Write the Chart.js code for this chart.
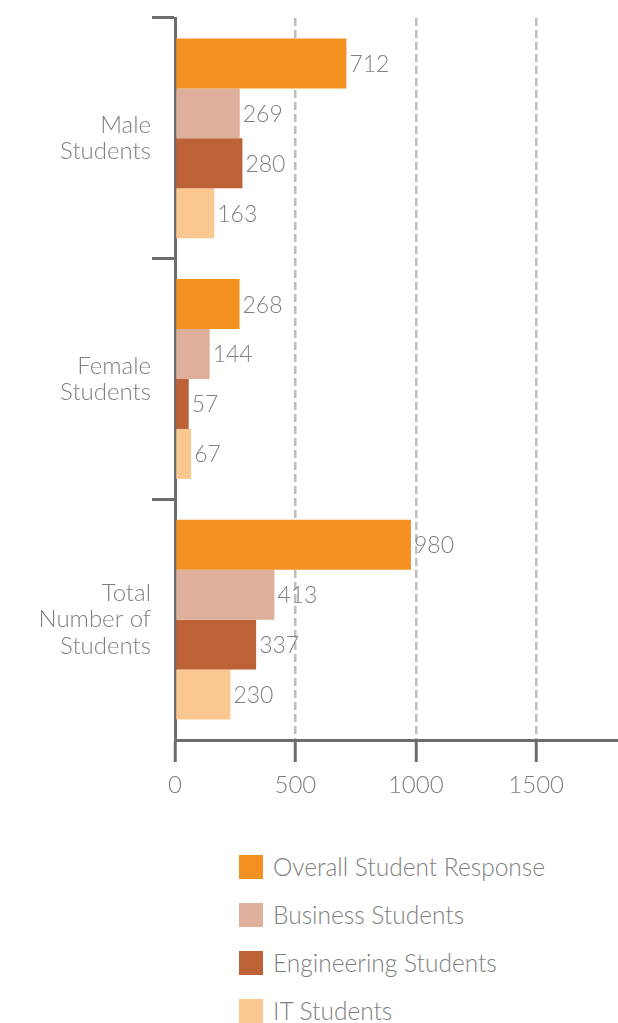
<!DOCTYPE html>
<html>
<head>
<meta charset="utf-8">
<script src="https://cdn.jsdelivr.net/npm/chart.js@4/dist/chart.umd.min.js"></script>
<style>
  html, body { margin: 0; padding: 0; background: #fff; }
  body { width: 618px; height: 1023px; position: relative; overflow: hidden; font-family: Lato, "Open Sans", sans-serif; font-weight: 300; }
  #wrap { position: absolute; left: 0; top: 0; width: 618px; height: 820px; }
  #legend { position: absolute; left: 239px; top: 855px; }
  .item { height: 24px; margin-bottom: 24px; display: flex; align-items: center; white-space: nowrap; }
  .sw { width: 24px; height: 24px; margin-right: 10px; flex: none; }
  .lt { font-size: 24.5px; color: #7f7f7f; line-height: 24px; }
</style>
</head>
<body>
<div id="wrap"><canvas id="c" width="618" height="820"></canvas></div>
<div id="legend"></div>
<script>
const categories = [["Male", "Students"], ["Female", "Students"], ["Total", "Number of", "Students"]];
const seriesNames = ["Overall Student Response", "Business Students", "Engineering Students", "IT Students"];
const overall = [712, 268, 980];
const business = [269, 144, 413];
const engineering = [280, 57, 337];
const itStudents = [163, 67, 230];
const xTicks = [0, 500, 1000, 1500];
const colors = ["#F39021", "#DEB09C", "#BD6136", "#F9C78F"];

const seriesValues = [overall, business, engineering, itStudents];
const FAMILY = "Lato, 'Open Sans', sans-serif";
const TEXT = "#7f7f7f";
const AXIS = "#6d6d6d";

const valueLabels = {
  id: "valueLabels",
  afterDatasetsDraw(chart) {
    const ctx = chart.ctx;
    ctx.save();
    ctx.font = "300 23px " + FAMILY;
    ctx.fillStyle = TEXT;
    ctx.textAlign = "left";
    ctx.textBaseline = "middle";
    chart.data.datasets.forEach((ds, di) => {
      const meta = chart.getDatasetMeta(di);
      meta.data.forEach((bar, i) => {
        ctx.fillText(String(ds.data[i]), bar.x + 3, bar.y + 1);
      });
    });
    ctx.restore();
  }
};

new Chart(document.getElementById("c"), {
  type: "bar",
  data: {
    labels: categories,
    datasets: seriesNames.map((n, i) => ({
      label: n,
      data: seriesValues[i],
      backgroundColor: colors[i],
      borderWidth: 0,
      categoryPercentage: 0.83,
      barPercentage: 1.0
    }))
  },
  options: {
    indexAxis: "y",
    responsive: false,
    animation: false,
    devicePixelRatio: 1,
    layout: { padding: { top: 18, right: 0, left: 0, bottom: 0 } },
    plugins: { legend: { display: false }, tooltip: { enabled: false } },
    scales: {
      x: {
        type: "linear",
        min: 0,
        max: 1840,
        afterBuildTicks(scale) { scale.ticks = xTicks.map(v => ({ value: v })); },
        afterFit(scale) { scale.height = 80; scale.paddingLeft = 0; scale.paddingRight = 0; },
        ticks: {
          font: { family: FAMILY, size: 24, weight: "300" },
          color: TEXT, padding: 9, maxRotation: 0, includeBounds: false,
          callback: (v) => String(v)
        },
        grid: {
          color: "#bfbfbf",
          lineWidth: 2.5,
          drawTicks: true,
          tickLength: 22,
          tickColor: AXIS,
          tickWidth: 3,
          tickBorderDash: [100, 0]
        },
        border: { display: true, color: AXIS, width: 3, dash: [8, 4] }
      },
      y: {
        type: "category",
        offset: true,
        afterFit(scale) { scale.width = 175; scale.paddingTop = 0; scale.paddingBottom = 0; },
        ticks: {
          font: { family: FAMILY, size: 24, weight: "300", lineHeight: 1.1 },
          color: TEXT, padding: 1
        },
        grid: {
          offset: true,
          drawOnChartArea: false,
          drawTicks: true,
          tickLength: 23,
          tickWidth: 3,
          tickColor: (ctx) => (ctx.type === "tick" ? AXIS : "rgba(0,0,0,0)")
        },
        border: { display: true, color: AXIS, width: 3 }
      }
    }
  },
  plugins: [valueLabels]
});

const legend = document.getElementById("legend");
seriesNames.forEach((n, i) => {
  const d = document.createElement("div");
  d.className = "item";
  const s = document.createElement("span");
  s.className = "sw";
  s.style.background = colors[i];
  const t = document.createElement("span");
  t.className = "lt";
  t.textContent = n;
  d.appendChild(s); d.appendChild(t);
  legend.appendChild(d);
});
</script>
</body>
</html>
